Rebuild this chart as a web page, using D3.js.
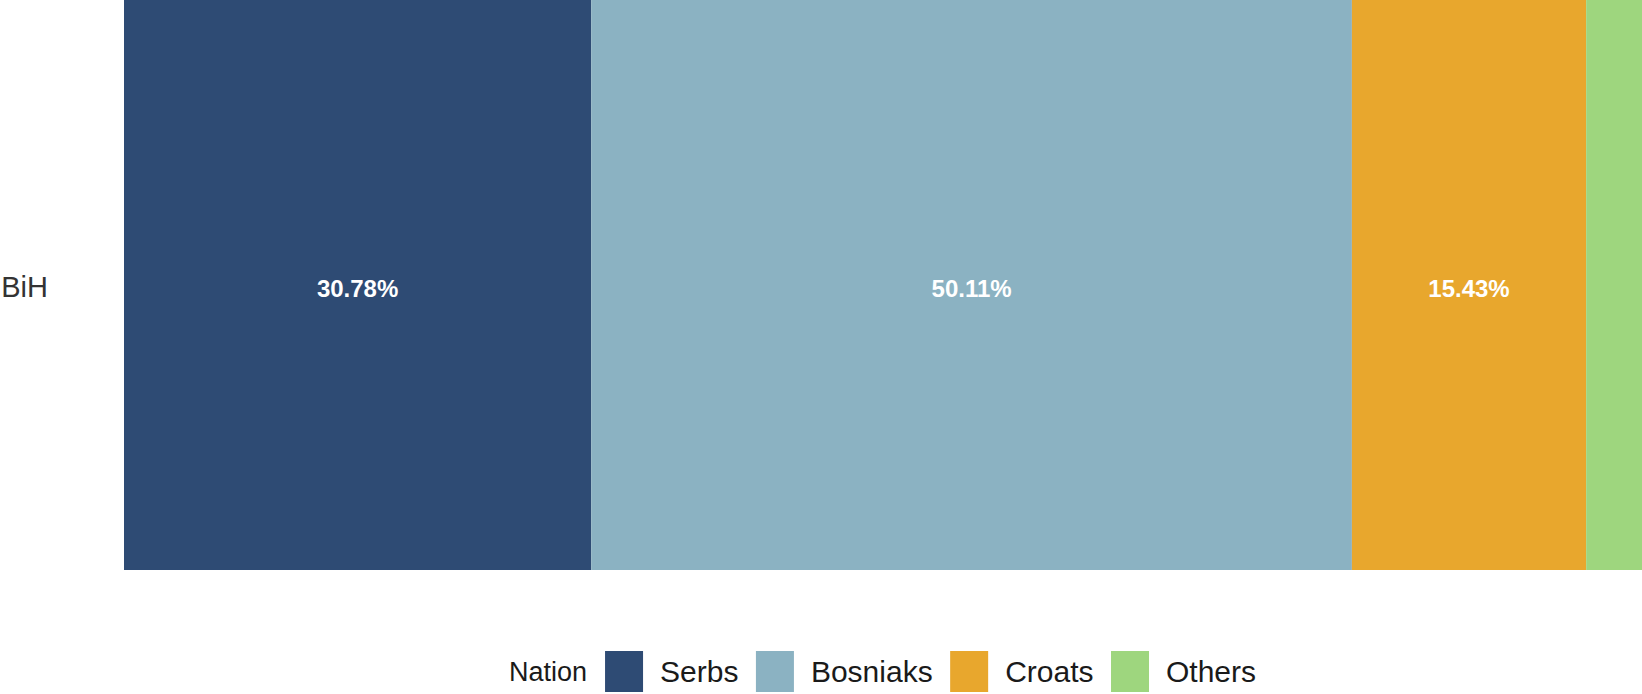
<!DOCTYPE html>
<html>
<head>
<meta charset="utf-8">
<script src="https://cdn.jsdelivr.net/npm/d3@7"></script>
<style>
	html, body { margin: 0; padding: 0; background: #fff; }
	svg { display: block; font-family: "Liberation Sans", Arial, sans-serif; }
</style>
</head>
<body>
<div id="chart"></div>
<script>
'use strict';

const regions  = ["BiH"];
const nations  = ["Serbs", "Bosniaks", "Croats", "Others"];
const shares   = [30.78, 50.11, 15.43, 3.68];
const colours  = ["#2e4b74", "#8bb2c2", "#e8a72d", "#9ed67e"];
const legendTitle = "Nation";


const drawChart = () =>
{
	const width  = 1642;
	const height = 694;
	const left   = 124;
	const bottom = 570;

	const svg = d3.select("#chart")
		.append("svg")
		.attr("width", width)
		.attr("height", height);

	const x = d3.scaleLinear().domain([0, 100]).range([left, width]);
	const y = d3.scaleBand().domain(regions).range([0, bottom]).padding(0);
	const colour = d3.scaleOrdinal().domain(nations).range(colours);

	// stack the segments one after another
	let acc = 0;
	const segs = nations.map((n, i) =>
	{
		const s = { nation: n, value: shares[i], x0: acc, x1: acc + shares[i] };
		acc += shares[i];
		return s;
	});

	svg.selectAll(".bar")
		.data(segs)
		.enter()
			.append("rect")
			.attr("class", "bar")
			.attr("x", d => x(d.x0))
			.attr("width", d => x(d.x1) - x(d.x0))
			.attr("y", y("BiH"))
			.attr("height", y.bandwidth())
			.attr("fill", d => colour(d.nation));

	svg.selectAll(".lab")
		.data(segs.filter(d => d.nation !== "Others"))
		.enter()
			.append("text")
			.attr("class", "lab")
			.attr("x", d => x((d.x0 + d.x1) / 2))
			.attr("y", y("BiH") + y.bandwidth() / 2 + 3)
			.attr("dy", "0.36em")
			.attr("text-anchor", "middle")
			.attr("fill", "#fff")
			.style("font-weight", "bold")
			.style("font-size", "24px")
			.text(d => d.value.toFixed(2) + "%");

	const yAxis = svg.append("g")
		.attr("transform", "translate(" + left + ",3)")
		.call(d3.axisLeft(y).tickSize(0).tickPadding(76));
	yAxis.select(".domain").remove();
	yAxis.selectAll("text")
		.style("font-size", "29px")
		.style("font-family", "Liberation Sans, Arial, sans-serif")
		.attr("fill", "#333");

	// ----------   Legend   ------------ //
	const legend = svg.append("g").attr("class", "legend");
	const cy = 671.5;
	let cx = 509;

	const title = legend.append("text")
		.attr("x", cx)
		.attr("y", cy)
		.attr("dy", "0.36em")
		.attr("fill", "#1a1a1a")
		.style("font-size", "27px")
		.text(legendTitle);
	cx += title.node().getComputedTextLength() + 18;

	nations.forEach(n =>
	{
		legend.append("rect")
			.attr("x", cx)
			.attr("y", cy - 20.5)
			.attr("width", 38)
			.attr("height", 41)
			.attr("fill", colour(n));
		cx += 38 + 17;
		const t = legend.append("text")
			.attr("x", cx)
			.attr("y", cy)
			.attr("dy", "0.36em")
			.attr("fill", "#1a1a1a")
			.style("font-size", "30px")
			.text(n);
		cx += t.node().getComputedTextLength() + 17.5;
	});
};


document.addEventListener("DOMContentLoaded", () =>
{
	drawChart();
}, false);
</script>
</body>
</html>
